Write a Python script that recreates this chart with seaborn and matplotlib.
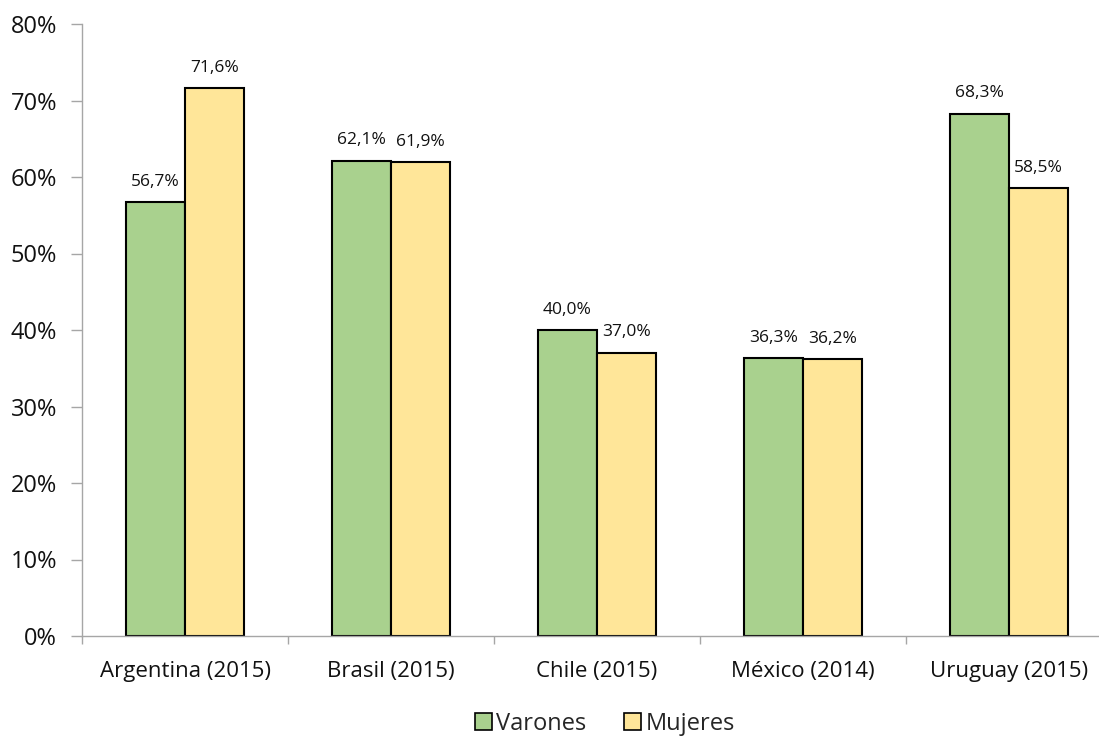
import matplotlib
matplotlib.use("Agg")
import matplotlib.pyplot as plt
import seaborn as sns
import pandas as pd
import numpy as np
from matplotlib.patches import Patch
from matplotlib.ticker import FixedLocator, PercentFormatter

paises = ["Argentina (2015)", "Brasil (2015)", "Chile (2015)", "México (2014)", "Uruguay (2015)"]
varones = [56.7, 62.1, 40.0, 36.3, 68.3]
mujeres = [71.6, 61.9, 37.0, 36.2, 58.5]
series = ["Varones", "Mujeres"]
colores = ["#A9D18E", "#FFE699"]

df = pd.DataFrame({
    "pais": paises * 2,
    "sexo": [series[0]] * len(paises) + [series[1]] * len(paises),
    "valor": varones + mujeres,
})

sns.set_theme(style="white")
plt.rcParams["font.family"] = ["Open Sans", "DejaVu Sans"]

fig = plt.figure(figsize=(10.99, 7.38), dpi=100)
ax = fig.add_axes([82 / 1099, (738 - 636) / 738, 1030 / 1099, (636 - 24) / 738])

sns.barplot(data=df, x="pais", y="valor", hue="sexo", palette=colores, saturation=1,
            width=0.573, gap=0, edgecolor="black", linewidth=1.5,
            legend=False, ax=ax, errorbar=None)

for cont in ax.containers:
    ax.bar_label(cont, labels=[f"{v:.1f}%".replace(".", ",") for v in cont.datavalues],
                 padding=9, fontsize=12.5, color="#111111")

ax.set_ylim(0, 80)
ax.set_xlim(-0.5, len(paises) - 0.5)
ax.yaxis.set_major_locator(FixedLocator(np.arange(0, 81, 10)))
ax.yaxis.set_major_formatter(PercentFormatter(decimals=0))
ax.set_xlabel("")
ax.set_ylabel("")

for s in ["top", "right"]:
    ax.spines[s].set_visible(False)
for s in ["left", "bottom"]:
    ax.spines[s].set_color("#A6A6A6")
    ax.spines[s].set_linewidth(1.0)

ax.tick_params(axis="y", which="major", left=True, length=8, width=1,
               color="#A6A6A6", labelsize=17, pad=10, labelcolor="#111111")
ax.tick_params(axis="x", which="major", bottom=False, labelsize=16, pad=12,
               labelcolor="#111111")
ax.xaxis.set_minor_locator(FixedLocator(np.arange(-0.5, len(paises), 1.0)))
ax.tick_params(axis="x", which="minor", bottom=True, length=6, width=1, color="#A6A6A6")

handles = [Patch(facecolor=c, edgecolor="black", linewidth=1.2, label=l)
           for c, l in zip(colores, series)]
fig.legend(handles=handles, loc="center", bbox_to_anchor=(605 / 1099, 1 - 724 / 738),
           ncol=2, frameon=False, fontsize=17, handlelength=0.7, handleheight=0.7,
           handletextpad=0.2, columnspacing=1.6)

fig.savefig("out.png", dpi=100)
